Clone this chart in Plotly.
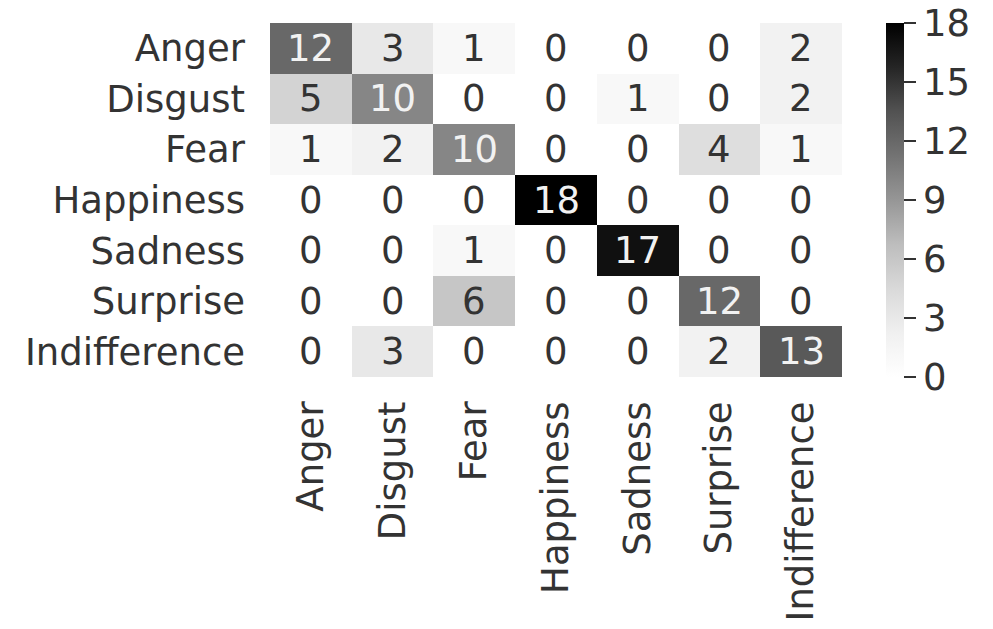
import plotly.graph_objects as go

# Confusion matrix of emotion classes (rows: true, columns: predicted)
labels = ["Anger", "Disgust", "Fear", "Happiness", "Sadness", "Surprise", "Indifference"]
counts = [
    [12, 3, 1, 0, 0, 0, 2],
    [5, 10, 0, 0, 1, 0, 2],
    [1, 2, 10, 0, 0, 4, 1],
    [0, 0, 0, 18, 0, 0, 0],
    [0, 0, 1, 0, 17, 0, 0],
    [0, 0, 6, 0, 0, 12, 0],
    [0, 3, 0, 0, 0, 2, 13],
]
cbar_ticks = [0, 3, 6, 9, 12, 15, 18]

FONT = "DejaVu Sans, Verdana, sans-serif"
TEXT_DARK = "#333333"
FS = 37

greys = [
    [0.0, "#ffffff"], [0.125, "#f0f0f0"], [0.25, "#d9d9d9"], [0.375, "#bdbdbd"],
    [0.5, "#969696"], [0.625, "#737373"], [0.75, "#525252"], [0.875, "#252525"],
    [1.0, "#000000"],
]

fig = go.Figure(
    go.Heatmap(
        z=counts,
        x=labels,
        y=labels,
        zmin=0,
        zmax=18,
        colorscale=greys,
        colorbar=dict(
            x=1.06,
            xanchor="left",
            y=0.5,
            yanchor="middle",
            len=1.0,
            lenmode="fraction",
            ypad=0,
            thickness=18,
            outlinewidth=0,
            tickmode="array",
            tickvals=cbar_ticks,
            ticks="outside",
            ticklen=12,
            tickwidth=1.5,
            tickcolor=TEXT_DARK,
            tickfont=dict(family=FONT, size=FS, color=TEXT_DARK),
        ),
    )
)

annotations = []
for i, row in enumerate(counts):
    for j, v in enumerate(row):
        annotations.append(
            dict(
                x=labels[j],
                y=labels[i],
                xref="x",
                yref="y",
                text=str(v),
                showarrow=False,
                font=dict(family=FONT, size=FS, color="#f2f2f2" if v >= 9 else TEXT_DARK),
            )
        )

fig.update_layout(
    width=993,
    height=629,
    margin=dict(l=270, r=141, t=23, b=252),
    paper_bgcolor="white",
    plot_bgcolor="white",
    annotations=annotations,
    xaxis=dict(
        tickangle=-90,
        tickfont=dict(family=FONT, size=FS, color=TEXT_DARK),
        ticklabelstandoff=16,
        showgrid=False,
        zeroline=False,
        ticks="",
        automargin=False,
    ),
    yaxis=dict(
        autorange="reversed",
        tickfont=dict(family=FONT, size=FS, color=TEXT_DARK),
        ticklabelstandoff=24,
        showgrid=False,
        zeroline=False,
        ticks="",
        automargin=False,
    ),
)

fig.write_html("out.html")
